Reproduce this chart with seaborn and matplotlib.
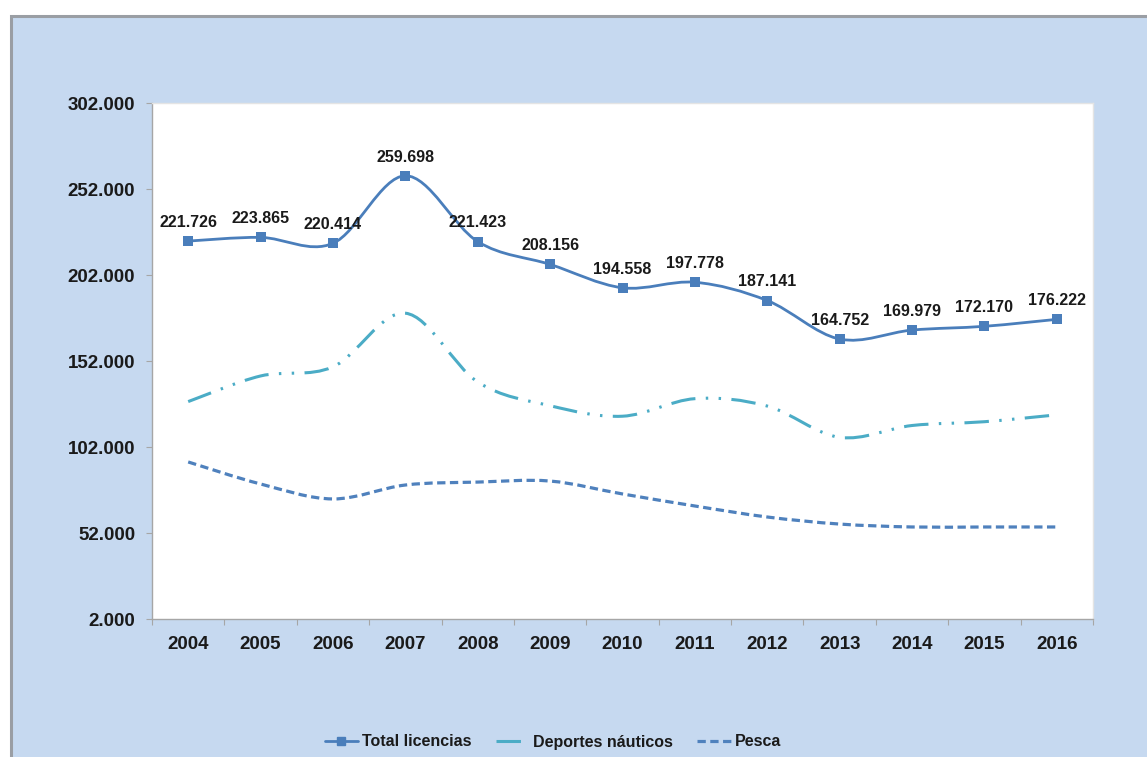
import numpy as np
import pandas as pd
import matplotlib
matplotlib.use("Agg")
import matplotlib.pyplot as plt
import seaborn as sns
from matplotlib.path import Path
from matplotlib.patches import PathPatch, Rectangle
from matplotlib.lines import Line2D

# Licencias por año
years = ["2004", "2005", "2006", "2007", "2008", "2009", "2010",
         "2011", "2012", "2013", "2014", "2015", "2016"]
total_licencias = [221726, 223865, 220414, 259698, 221423, 208156, 194558,
                   197778, 187141, 164752, 169979, 172170, 176222]
deportes_nauticos = [128400, 143300, 148600, 179800, 139800, 126000, 119900,
                     130100, 125800, 107600, 114500, 116700, 120700]
pesca = [93300, 80500, 71800, 79900, 81600, 82200, 74700,
         67700, 61300, 57200, 55500, 55500, 55500]
y_ticks = [2000, 52000, 102000, 152000, 202000, 252000, 302000]

def miles(v):
    return f"{v:,.0f}".replace(",", ".")

df = pd.DataFrame({"pos": np.arange(len(years)), "year": years,
                   "total": total_licencias,
                   "deportes": deportes_nauticos, "pesca": pesca})

sns.set_theme(style="white")
plt.rcParams["font.family"] = ["Liberation Sans", "DejaVu Sans"]
plt.rcParams["font.weight"] = "bold"

fig = plt.figure(figsize=(11.47, 7.57), dpi=100)
fig.patch.set_facecolor("white")
# panel de fondo azul con borde gris
panel = Rectangle((11 / 1147, -0.01), 1.0, 1 - 16 / 757 + 0.01,
                  transform=fig.transFigure, facecolor="#c6d9f0",
                  edgecolor="#9a9ea4", linewidth=2.2, zorder=-5)
fig.add_artist(panel)

ax = fig.add_axes([152 / 1147, 1 - 619 / 757, (1093 - 152) / 1147, (619 - 103) / 757])
ax.set_zorder(1)
ax.set_facecolor("white")


def smooth_path(xs, ys):
    """Curva Bézier suavizada que pasa por los puntos de la serie."""
    pts = np.column_stack([xs, ys]).astype(float)
    n = len(pts)
    verts = [pts[0]]
    codes = [Path.MOVETO]
    for i in range(n - 1):
        p0 = pts[i - 1] if i > 0 else pts[i]
        p1 = pts[i]
        p2 = pts[i + 1]
        p3 = pts[i + 2] if i + 2 < n else pts[i + 1]
        c1 = p1 + (p2 - p0) / 6.0
        c2 = p2 - (p3 - p1) / 6.0
        verts += [c1, c2, p2]
        codes += [Path.CURVE4] * 3
    return Path(verts, codes)


c_total = "#4a7ebb"
c_dep = "#4bacc6"
c_pesca = "#4f81bd"
ls_dep = (0, (8.0, 3.4, 0.8, 3.4, 0.8, 3.4))
ls_pesca = (0, (2.6, 1.4))

ax.add_patch(PathPatch(smooth_path(df["pos"], df["pesca"]), facecolor="none",
                       edgecolor=c_pesca, linewidth=2.3, linestyle=ls_pesca,
                       capstyle="butt", zorder=2))
ax.add_patch(PathPatch(smooth_path(df["pos"], df["deportes"]), facecolor="none",
                       edgecolor=c_dep, linewidth=2.2, linestyle=ls_dep,
                       capstyle="butt", zorder=2))
ax.add_patch(PathPatch(smooth_path(df["pos"], df["total"]), facecolor="none",
                       edgecolor=c_total, linewidth=2.0, zorder=3))
sns.scatterplot(data=df, x="pos", y="total", ax=ax, marker="s", s=60,
                color=c_total, edgecolor=c_total, linewidth=0, zorder=4, legend=False)

for x, v in zip(df["pos"], df["total"]):
    ax.annotate(miles(v), (x, v), xytext=(0, 8), textcoords="offset points",
                ha="center", va="bottom", fontsize=11.5, fontweight="bold",
                color="#1a1a1a", zorder=5)

ax.set_xlim(-0.5, len(years) - 0.5)
ax.set_ylim(y_ticks[0], y_ticks[-1])
ax.set_yticks(y_ticks)
ax.set_yticklabels([miles(t) for t in y_ticks])
ax.set_xticks(df["pos"])
ax.set_xticklabels(years)
ax.set_xticks(np.arange(-0.5, len(years)), minor=True)
ax.set_xlabel("")
ax.set_ylabel("")

ax.tick_params(axis="y", which="major", length=4, width=0.8, color="#a6a6a6",
               pad=8, labelsize=13.5, labelcolor="#1a1a1a", left=True)
ax.tick_params(axis="x", which="major", length=0, pad=12, labelsize=13.5,
               labelcolor="#1a1a1a")
ax.tick_params(axis="x", which="minor", length=4, width=0.8, color="#a6a6a6",
               bottom=True)
for lbl in ax.get_xticklabels() + ax.get_yticklabels():
    lbl.set_fontweight("bold")

for side in ["left", "bottom"]:
    ax.spines[side].set_color("#a6a6a6")
    ax.spines[side].set_linewidth(1.0)
for side in ["top", "right"]:
    ax.spines[side].set_color("#e4e4e4")
    ax.spines[side].set_linewidth(1.0)

handles = [
    Line2D([], [], color=c_total, linewidth=2.0, marker="s", markersize=6),
    Line2D([], [], color=c_dep, linewidth=2.2, linestyle=ls_dep),
    Line2D([], [], color=c_pesca, linewidth=2.3, linestyle=ls_pesca),
]
leg = fig.legend(handles, ["Total licencias", "Deportes náuticos", "Pesca"],
                 loc="center", bbox_to_anchor=(0.482, 1 - 742 / 757), ncol=3,
                 frameon=False, handlelength=2.1, handletextpad=0.25,
                 columnspacing=1.5, prop={"weight": "bold", "size": 11.5})
for t in leg.get_texts():
    t.set_color("#1a1a1a")

fig.savefig("out.png", dpi=100, facecolor=fig.get_facecolor())
